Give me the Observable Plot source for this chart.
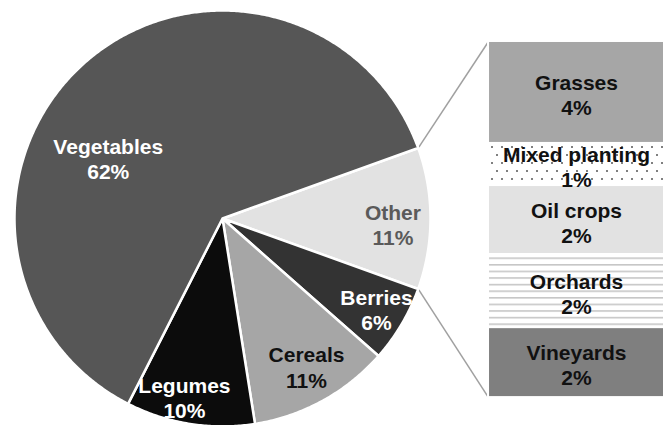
<!DOCTYPE html>
<html><head><meta charset="utf-8">
<script src="https://cdn.jsdelivr.net/npm/d3@7"></script>
<script src="https://cdn.jsdelivr.net/npm/@observablehq/plot@0.6"></script>
<style>body{margin:0;background:#fff}</style>
</head><body><div id="chart"></div>
<script>
// ---- data ----
const pieCategories = ["Other", "Berries", "Cereals", "Legumes", "Vegetables"];
const pieValues = [11, 6, 11, 10, 62];
const otherCategories = ["Grasses", "Mixed planting", "Oil crops", "Orchards", "Vineyards"];
const otherValues = [3.15, 1.3, 2.13, 2.26, 2.16];   // segment sizes as drawn
const otherLabels = [4, 1, 2, 2, 2];                  // printed percentages

// ---- styles ----
const pieFill = {Other: "#e2e2e2", Berries: "#333333", Cereals: "#a6a6a6", Legumes: "#0c0c0c", Vegetables: "#565656"};
const pieText = {Other: "#5a5a5a", Berries: "#ffffff", Cereals: "#111111", Legumes: "#ffffff", Vegetables: "#ffffff"};
const barFill = {"Grasses": "#a6a6a6", "Mixed planting": "url(#dots)", "Oil crops": "#e2e2e2", "Orchards": "url(#hlines)", "Vineyards": "#7f7f7f"};

// ---- layout (pie radius = 1 unit) ----
const startDeg = 70.2;
const labelPlace = {Other: {r: 0.82, dA: 2}, Berries: {r: 0.86, dA: 0}, Cereals: {r: 0.82, dA: -0.7}, Legumes: {r: 0.88, dA: 3}, Vegetables: {r: 0.62, dA: -21}};
const bar = {x1: 1.279, x2: 2.125, top: 0.851, bottom: -0.861};

const rad = Math.PI / 180;
const pt = (a, r) => [r * Math.sin(a), r * Math.cos(a)];
const arcs = d3.pie().sort(null).startAngle(startDeg * rad).endAngle(startDeg * rad + 2 * Math.PI)(pieValues);

const slicePts = [];
const pieLabels = [];
arcs.forEach((arc, i) => {
  const cat = pieCategories[i];
  slicePts.push({cat, x: 0, y: 0});
  const n = Math.max(4, Math.ceil((arc.endAngle - arc.startAngle) / (0.5 * rad)));
  for (let k = 0; k <= n; k++) {
    const a = arc.startAngle + (arc.endAngle - arc.startAngle) * k / n;
    const [x, y] = pt(a, 1);
    slicePts.push({cat, x, y});
  }
  slicePts.push({cat, x: 0, y: 0});
  const lp = labelPlace[cat];
  const [lx, ly] = pt((arc.startAngle + arc.endAngle) / 2 + lp.dA * rad, lp.r);
  pieLabels.push({cat, x: lx, y: ly, text: `${cat}\n${pieValues[i]}%`});
});

const total = d3.sum(otherValues);
const ys = d3.scaleLinear().domain([0, total]).range([bar.top, bar.bottom]);
const cum = [0, ...d3.cumsum(otherValues)];
const segs = otherCategories.map((c, i) => ({
  cat: c, y1: ys(cum[i]), y2: ys(cum[i + 1]),
  ym: ys((cum[i] + cum[i + 1]) / 2) - 0.01,
  text: `${c}\n${otherLabels[i]}%`
}));

const [sx, sy] = pt(arcs[0].startAngle, 1);
const [ex, ey] = pt(arcs[0].endAngle, 1);
const links = [
  {x1: sx, y1: sy, x2: bar.x1, y2: bar.top},
  {x1: ex, y1: ey, x2: bar.x1, y2: bar.bottom}
];

const chart = Plot.plot({
  width: 670, height: 425,
  margin: 0,
  x: {domain: [-222 / 208, 448 / 208], axis: null},
  y: {domain: [-207 / 208, 218 / 208], axis: null},
  color: {type: "identity"},
  style: {background: "white", fontFamily: "'Liberation Sans', Arial, sans-serif"},
  marks: [
    Plot.link(links, {x1: "x1", y1: "y1", x2: "x2", y2: "y2", stroke: "#a0a0a0", strokeWidth: 1.5}),
    Plot.line(slicePts, {x: "x", y: "y", z: "cat", fill: d => pieFill[d.cat], stroke: "white", strokeWidth: 2.5, strokeLinejoin: "round"}),
    Plot.rect(segs, {x1: bar.x1, x2: bar.x2, y1: "y1", y2: "y2", fill: d => barFill[d.cat], stroke: "white", strokeWidth: 2}),
    Plot.text(pieLabels, {x: "x", y: "y", text: "text", fill: d => pieText[d.cat], fontSize: 21, fontWeight: "bold", lineHeight: 1.2}),
    Plot.text(segs, {x: (bar.x1 + bar.x2) / 2, y: "ym", text: "text", fill: "#111111", fontSize: 21, fontWeight: "bold", lineHeight: 1.2})
  ]
});

const defs = d3.select(chart).insert("defs", ":first-child");
const dots = defs.append("pattern").attr("id", "dots").attr("patternUnits", "userSpaceOnUse").attr("width", 10).attr("height", 16);
dots.append("rect").attr("width", 10).attr("height", 16).attr("fill", "white");
dots.append("circle").attr("cx", 2).attr("cy", 3).attr("r", 1).attr("fill", "#555");
dots.append("circle").attr("cx", 7).attr("cy", 11).attr("r", 1).attr("fill", "#555");
const hl = defs.append("pattern").attr("id", "hlines").attr("patternUnits", "userSpaceOnUse").attr("width", 10).attr("height", 6.6);
hl.append("rect").attr("width", 10).attr("height", 6.6).attr("fill", "white");
hl.append("rect").attr("y", 0).attr("width", 10).attr("height", 1.6).attr("fill", "#c6c6c6");

document.getElementById("chart").appendChild(chart);
</script>
</body></html>
